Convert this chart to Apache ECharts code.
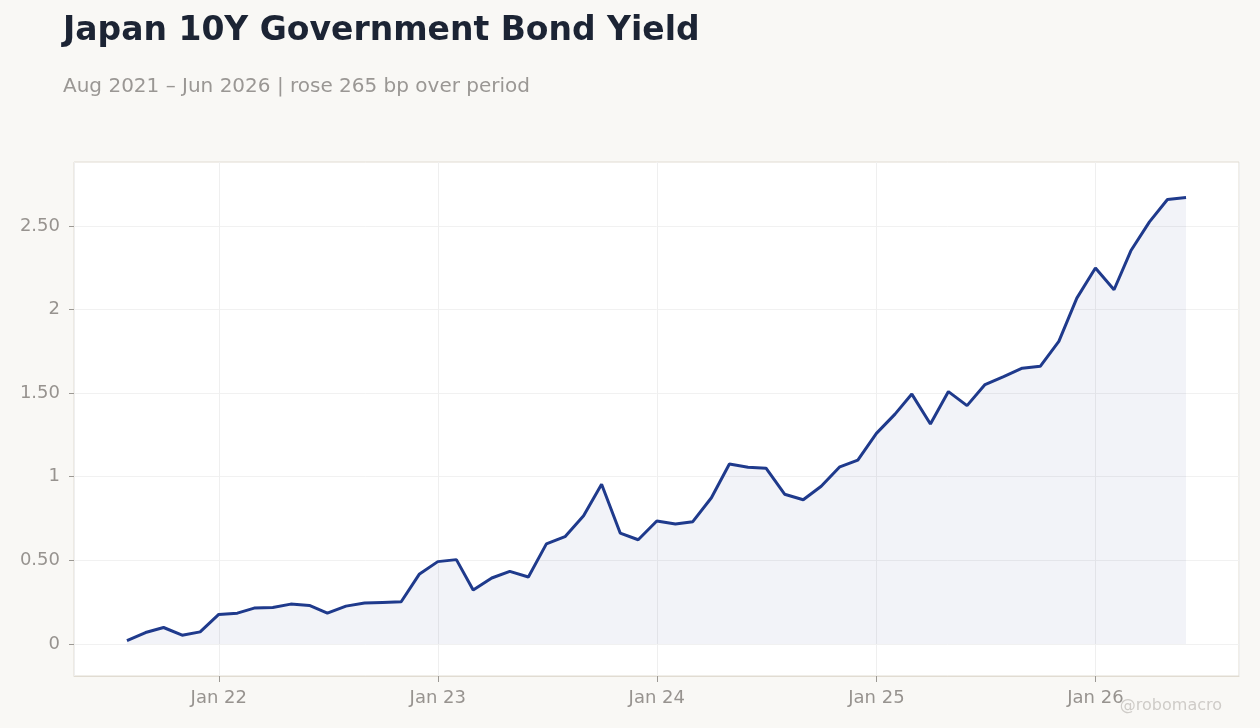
<!DOCTYPE html>
<html>
<head>
<meta charset="utf-8">
<style>
html,body{margin:0;padding:0;background:#f9f8f5;}
#chart{width:1260px;height:728px;}
</style>
<script src="https://cdn.jsdelivr.net/npm/echarts@6/dist/echarts.min.js"></script>
</head>
<body>
<div id="chart"></div>
<script>
const startYear = 2021, startMonth = 8; // Aug 2021
const yields = [
  0.02, 0.068, 0.098, 0.052, 0.072,
  0.176, 0.184, 0.214, 0.218, 0.238, 0.23, 0.184, 0.226, 0.244, 0.248, 0.252, 0.416,
  0.492, 0.504, 0.322, 0.394, 0.434, 0.40, 0.598, 0.641, 0.767, 0.955, 0.663, 0.623,
  0.735, 0.717, 0.731, 0.874, 1.076, 1.057, 1.051, 0.895, 0.862, 0.943, 1.059, 1.099,
  1.259, 1.374, 1.494, 1.315, 1.509, 1.425, 1.551, 1.599, 1.649, 1.660, 1.809, 2.068,
  2.248, 2.118, 2.351, 2.524, 2.658, 2.67
];
const yTicks = [0, 0.5, 1, 1.5, 2, 2.5];

const dates = yields.map((_, i) => Date.UTC(startYear, startMonth - 1 + i, 1));
const seriesData = yields.map((v, i) => [dates[i], v]);
const span = dates[dates.length - 1] - dates[0];
const xMin = dates[0] - span * 0.05;
const xMax = dates[dates.length - 1] + span * 0.05;
const yMinV = Math.min(...yields), yMaxV = Math.max(...yields);
const yPad = (yMaxV - yMinV) * 0.08;
const DAY = 86400000;
const months = ['Jan','Feb','Mar','Apr','May','Jun','Jul','Aug','Sep','Oct','Nov','Dec'];

const chart = echarts.init(document.getElementById('chart'));
chart.setOption({
  backgroundColor: '#f9f8f5',
  animation: false,
  textStyle: { fontFamily: 'DejaVu Sans' },
  title: [{
    text: 'Japan 10Y Government Bond Yield',
    left: 58, top: 10,
    textStyle: { fontSize: 33, fontWeight: 'bold', color: '#1c2434', fontFamily: 'DejaVu Sans' }
  }, {
    text: 'Aug 2021 \u2013 Jun 2026 | rose 265 bp over period',
    left: 58, top: 72,
    textStyle: { fontSize: 20, fontWeight: 'normal', color: '#9a9794', fontFamily: 'DejaVu Sans' }
  }],
  graphic: [{
    type: 'text', right: 38, top: 698,
    style: { text: '@robomacro', fontSize: 16, fill: '#cfccc8', fontFamily: 'DejaVu Sans' }
  }],
  grid: {
    left: 74, right: 21, top: 162, bottom: 52,
    show: true, backgroundColor: '#ffffff', borderColor: '#e1dcd2', borderWidth: 1
  },
  xAxis: {
    type: 'time', min: xMin, max: xMax,
    minInterval: 365 * DAY, maxInterval: 366 * DAY,
    axisLine: { show: true, onZero: false, lineStyle: { color: '#e1dcd2' } },
    axisTick: { show: true, length: 6, lineStyle: { color: '#9c9994', width: 1 } },
    axisLabel: {
      color: '#97938f', fontSize: 18, margin: 13,
      formatter: v => { const d = new Date(v); return months[d.getUTCMonth()] + ' ' + String(d.getUTCFullYear()).slice(2); }
    },
    splitLine: { show: true, lineStyle: { color: '#efefef', width: 1 } }
  },
  yAxis: {
    type: 'value', min: +(yMinV - yPad).toFixed(3), max: +(yMaxV + yPad).toFixed(3),
    axisLine: { show: false, onZero: false },
    axisTick: { show: true, customValues: yTicks, length: 5, lineStyle: { color: '#9c9994' } },
    axisLabel: {
      customValues: yTicks, color: '#97938f', fontSize: 18, margin: 14,
      formatter: v => Number.isInteger(v) ? String(v) : v.toFixed(2)
    },
    splitLine: { show: true, lineStyle: { color: '#f1f1f1', width: 1 } }
  },
  series: [{
    type: 'line', data: seriesData, showSymbol: false, symbol: 'none',
    lineStyle: { color: '#1f3a8c', width: 3 },
    areaStyle: { color: 'rgba(31,58,140,0.085)', origin: 0 }
  }]
});
</script>
</body>
</html>
